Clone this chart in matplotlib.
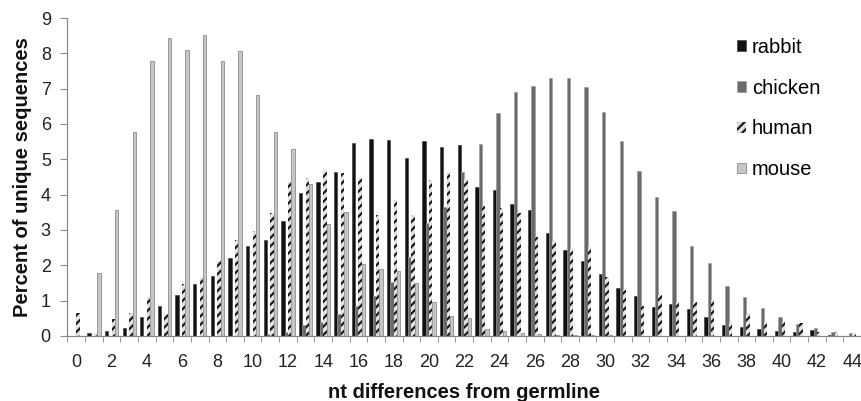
# Mutation distance distribution per species (percent of unique sequences)
import numpy as np
import matplotlib
matplotlib.use("Agg")
import matplotlib.pyplot as plt

plt.rcParams['font.family'] = ['Liberation Sans', 'DejaVu Sans']
plt.rcParams['hatch.linewidth'] = 1.6

# Data
nt_diff = list(range(45))
rabbit = [0.0, 0.08, 0.14, 0.24, 0.55, 0.85, 1.16, 1.47, 1.70, 2.21,
          2.54, 2.71, 3.25, 4.05, 4.36, 4.65, 5.45, 5.58, 5.56, 5.05,
          5.53, 5.36, 5.40, 4.22, 4.12, 3.74, 3.58, 2.92, 2.44, 2.13,
          1.76, 1.36, 1.12, 0.82, 0.91, 0.77, 0.55, 0.31, 0.25, 0.20,
          0.14, 0.12, 0.17, 0.02, 0.0]
chicken = [0.0, 0.0, 0.0, 0.0, 0.0, 0.0, 0.0, 0.0, 0.0, 0.0,
           0.0, 0.05, 0.10, 0.31, 0.41, 0.61, 0.85, 1.14, 1.54, 2.23,
           3.20, 3.65, 4.64, 5.43, 6.31, 6.90, 7.07, 7.30, 7.29, 7.04,
           6.33, 5.53, 4.67, 3.94, 3.53, 2.54, 2.08, 1.42, 1.09, 0.79,
           0.55, 0.34, 0.24, 0.12, 0.08]
human = [0.66, 0.08, 0.47, 0.66, 1.09, 0.62, 1.47, 1.66, 2.13, 2.73,
         2.96, 3.48, 4.36, 4.48, 4.70, 4.60, 4.46, 3.42, 3.84, 3.42,
         4.41, 4.65, 4.43, 3.69, 3.63, 3.49, 2.80, 2.70, 2.47, 2.51,
         1.67, 1.31, 0.85, 1.15, 0.97, 0.97, 1.02, 0.41, 0.64, 0.41,
         0.39, 0.38, 0.10, 0.12, 0.08]
mouse = [0.0, 1.79, 3.56, 5.78, 7.77, 8.43, 8.10, 8.53, 7.77, 8.06,
         6.82, 5.78, 5.30, 4.29, 3.18, 3.52, 2.04, 1.89, 1.85, 1.50,
         0.97, 0.57, 0.50, 0.19, 0.15, 0.08, 0.05, 0.04, 0.03, 0.02,
         0.03, 0.0, 0.0, 0.0, 0.0, 0.0, 0.0, 0.0, 0.0, 0.0,
         0.0, 0.0, 0.0, 0.0, 0.0]

W, H = 862, 401
fig = plt.figure(figsize=(W / 100, H / 100), dpi=100)
ax = fig.add_axes([67.5 / W, 1 - 336 / H, (861 - 67.5) / W, (336 - 18) / H])

x = np.array(nt_diff)
bw = 0.19
ax.bar(x - 1.5 * bw, rabbit, bw, color="#111111", edgecolor="#333333", linewidth=0.4, label="rabbit")
ax.bar(x - 0.5 * bw, chicken, bw, color="#6a6a6a", edgecolor="#9a9a9a", linewidth=0.4, label="chicken")
ax.bar(x + 0.5 * bw, human, bw, color="#e2e2e2", edgecolor="#1a1a1a", linewidth=0, hatch="////", label="human")
ax.bar(x + 1.5 * bw, mouse, bw, color="#c6c6c6", edgecolor="#8c8c8c", linewidth=0.6, label="mouse")

ax.set_xlim(-0.5, 44.5)
ax.set_ylim(0, 9)
ax.set_yticks(range(10))
ax.set_xticks(range(0, 45, 2))
ax.set_xticks(np.arange(-0.5, 45, 1), minor=True)

for s in ["top", "right"]:
    ax.spines[s].set_visible(False)
for s in ["left", "bottom"]:
    ax.spines[s].set_color("#8a8a8a")
    ax.spines[s].set_linewidth(0.9)

ax.tick_params(axis="x", which="major", length=0, pad=13, labelsize=13, labelcolor="#222222")
ax.tick_params(axis="x", which="minor", length=4, color="#8a8a8a", direction="out")
ax.tick_params(axis="y", length=5, color="#8a8a8a", pad=7, labelsize=13, labelcolor="#222222")

fig.text(464 / W, 0.008, "nt differences from germline", ha="center", va="baseline",
         fontsize=14.5, fontweight="bold", color="#111111")
fig.text(23 / W, 1 - 177 / H, "Percent of unique sequences", rotation=90, ha="center", va="center",
         fontsize=14.5, fontweight="bold", color="#111111")

fig.legend(loc="upper left", bbox_to_anchor=(737 / W, 1 - 38 / H), frameon=False,
           fontsize=14.5, handlelength=0.45, handleheight=0.45, handletextpad=0.3,
           labelspacing=1.08, borderpad=0, borderaxespad=0)

fig.savefig("out.png", dpi=100)
